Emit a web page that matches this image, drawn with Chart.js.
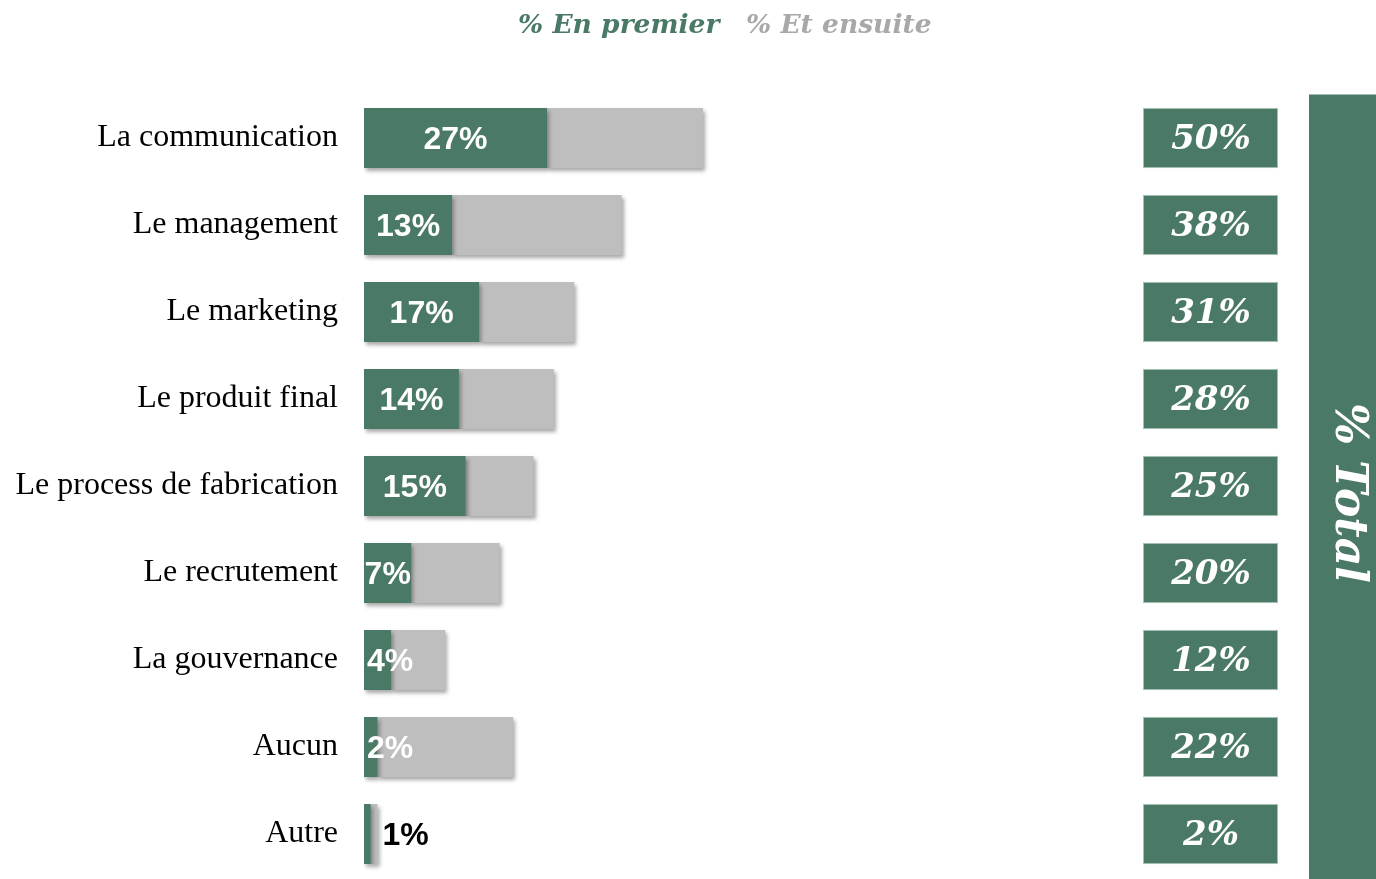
<!DOCTYPE html>
<html><head><meta charset="utf-8">
<script src="https://cdn.jsdelivr.net/npm/chart.js@4"></script>
<style>html,body{margin:0;padding:0;background:#fff;}canvas{display:block;}</style>
</head><body>
<canvas id="c" width="1376" height="879"></canvas>
<script>
const categories = ["La communication","Le management","Le marketing","Le produit final","Le process de fabrication","Le recrutement","La gouvernance","Aucun","Autre"];
const enPremier = [27,13,17,14,15,7,4,2,1];
const etEnsuite = [23,25,14,14,10,13,8,20,1];
const seriesNames = ["% En premier","% Et ensuite"];
const totalTitle = "% Total";

const GREEN = "#4A7966";
const GREY = "#BEBEBE";
const LEGEND_GREY = "#A8A8A8";

const shadowPlugin = {
  id: 'shadowPlugin',
  beforeDatasetsDraw(chart){
    const ctx = chart.ctx; ctx.save();
    ctx.shadowColor = 'rgba(0,0,0,0.35)';
    ctx.shadowBlur = 4; ctx.shadowOffsetX = 2; ctx.shadowOffsetY = 3;
  },
  afterDatasetsDraw(chart){ chart.ctx.restore(); }
};

const labelPlugin = {
  id: 'labelPlugin',
  afterDatasetsDraw(chart){
    const ctx = chart.ctx;
    const m0 = chart.getDatasetMeta(0), m1 = chart.getDatasetMeta(1);
    ctx.save();
    ctx.font = 'bold 32px "Liberation Sans", Arial, sans-serif';
    ctx.textBaseline = 'middle';
    m0.data.forEach((el, i) => {
      const txt = enPremier[i] + '%';
      const w = ctx.measureText(txt).width;
      const segW = el.x - el.base;
      const end = m1.data[i].x;
      if (w <= segW) {
        ctx.fillStyle = '#fff'; ctx.textAlign = 'center';
        ctx.fillText(txt, (el.x + el.base)/2, el.y + 2);
      } else if (w + 6 <= end - el.base) {
        ctx.fillStyle = '#fff'; ctx.textAlign = 'left';
        ctx.fillText(txt, el.base + 3, el.y + 2);
      } else {
        ctx.fillStyle = '#000'; ctx.textAlign = 'left';
        ctx.fillText(txt, end + 5, el.y + 2);
      }
    });
    ctx.restore();
  }
};

const decorPlugin = {
  id: 'decorPlugin',
  afterDraw(chart){
    const ctx = chart.ctx;
    const ca = chart.chartArea;
    const ys = chart.scales.y;
    const m0 = chart.getDatasetMeta(0);
    ctx.save();
    // Legend
    ctx.textBaseline = 'alphabetic';
    ctx.textAlign = 'left';
    ctx.font = 'bold italic 26.5px "DejaVu Serif", serif';
    ctx.fillStyle = GREEN;
    ctx.fillText(seriesNames[0], 518, 33);
    ctx.fillStyle = LEGEND_GREY;
    ctx.fillText(seriesNames[1], 746, 33);
    // Total boxes
    m0.data.forEach((el, i) => {
      const h = el.height;
      const y = ys.getPixelForValue(i);
      ctx.fillStyle = GREEN;
      ctx.fillRect(1143, y - h/2, 135, h);
      ctx.strokeStyle = 'rgba(190,210,200,0.8)'; ctx.lineWidth = 1;
      ctx.strokeRect(1143.5, y - h/2 + 0.5, 134, h - 1);
      ctx.fillStyle = '#fff';
      ctx.font = 'bold italic 34px "DejaVu Serif", serif';
      ctx.textAlign = 'center'; ctx.textBaseline = 'middle';
      ctx.fillText((enPremier[i] + etEnsuite[i]) + '%', 1211, y + 2);
    });
    // Total vertical band
    ctx.fillStyle = GREEN;
    ctx.fillRect(1309, ca.top, 1376 - 1309, chart.height - ca.top);
    ctx.translate(1347, 493);
    ctx.rotate(Math.PI/2);
    ctx.fillStyle = '#fff';
    ctx.font = 'bold italic 44px "DejaVu Serif", serif';
    ctx.textAlign = 'center'; ctx.textBaseline = 'middle';
    ctx.fillText(totalTitle, 0, 0);
    ctx.restore();
  }
};

new Chart(document.getElementById('c'), {
  type: 'bar',
  data: {
    labels: categories,
    datasets: [
      { label: seriesNames[0], data: enPremier, backgroundColor: GREEN, borderWidth: 0, barPercentage: 0.69, categoryPercentage: 1.0 },
      { label: seriesNames[1], data: etEnsuite, backgroundColor: GREY, borderWidth: 0, barPercentage: 0.69, categoryPercentage: 1.0 }
    ]
  },
  options: {
    indexAxis: 'y',
    responsive: false,
    animation: false,
    layout: { padding: { top: 94.5, bottom: 1.5, right: 334, left: 0 } },
    plugins: { legend: { display: false }, tooltip: { enabled: false } },
    scales: {
      x: { stacked: true, min: 0, max: 100, display: false },
      y: {
        stacked: true,
        grid: { display: false, drawTicks: false },
        border: { display: false },
        ticks: { color: '#000', padding: 26, font: { family: '"Liberation Serif", serif', size: 32 } },
        afterFit(scale){ scale.width = 364; scale.paddingTop = 0; scale.paddingBottom = 0; }
      }
    }
  },
  plugins: [shadowPlugin, labelPlugin, decorPlugin]
});
</script>
</body></html>
